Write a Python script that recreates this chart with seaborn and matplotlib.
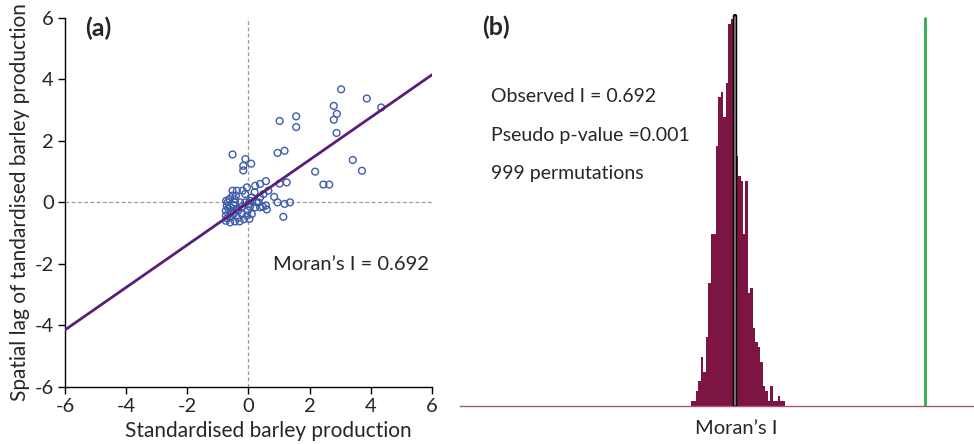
import numpy as np
import pandas as pd
import matplotlib
matplotlib.use("Agg")
import matplotlib.pyplot as plt
import seaborn as sns

sns.set_theme(style="white")
plt.rcParams["font.family"] = ["Lato", "DejaVu Sans"]

# ---- Moran scatterplot data (standardised production vs. its spatial lag) ----
std_production = [
    3.03, 3.87, 4.34, 2.79, 2.89, 2.79, 2.88, 1.02, 1.56, 1.56,
    0.95, 1.18, -0.52, -0.10, -0.17, -0.17, 0.09, 3.41, 3.71, 2.18,
    2.45, 2.64, 1.25, 1.02, 0.57, 0.38, 0.22, -0.05, -0.19, -0.38,
    -0.52, -0.52, -0.41, 0.65, 0.49, 0.84, 0.95, 1.18, 1.36, 1.14,
    0.60, 0.57, 0.38, 0.22, 0.27, 0.05, -0.11, -0.27, -0.44, -0.73,
    -0.71, -0.74, -0.74, -0.74, -0.60, -0.44, -0.29, -0.60, -0.49, -0.33,
    -0.22, -0.05, 0.03, -0.02, 0.11, -0.60, -0.49, -0.38, -0.22, -0.58,
    -0.62, 0.11, -0.11, 0.20, 0.38, 0.05, -0.70, -0.66, -0.55, -0.35,
    -0.15, 0.00, 0.47, 0.33, -0.68, -0.45,
]
spatial_lag = [
    3.68, 3.38, 3.09, 3.14, 2.88, 2.69, 2.26, 2.65, 2.80, 2.45,
    1.61, 1.68, 1.56, 1.41, 1.19, 1.04, 1.26, 1.38, 1.03, 1.00,
    0.58, 0.58, 0.65, 0.61, 0.69, 0.60, 0.54, 0.49, 0.38, 0.38,
    0.38, 0.22, 0.22, 0.38, 0.27, 0.18, 0.00, -0.05, 0.00, -0.47,
    -0.23, -0.10, -0.16, -0.16, 0.00, 0.05, 0.00, 0.00, 0.00, 0.05,
    -0.11, -0.27, -0.43, -0.60, -0.65, -0.62, -0.62, -0.49, -0.38, -0.27,
    -0.38, -0.43, -0.54, -0.27, -0.38, -0.16, -0.08, -0.22, -0.14, -0.33,
    0.11, 0.16, 0.27, 0.33, 0.16, -0.14, -0.52, -0.20, -0.30, -0.50,
    -0.55, -0.05, -0.14, 0.00, 0.00, 0.10,
]
moran_I = 0.692
axis_ticks = [-6, -4, -2, 0, 2, 4, 6]

# ---- permutation reference distribution (999 permutations) ----
perm_counts = [
    1, 1, 3, 5, 10, 7, 14, 25, 35, 35,
    53, 63, 64, 59, 66, 78, 79, 61, 51, 47,
    46, 35, 46, 23, 24, 16, 13, 12, 9, 4,
    3, 1, 4, 1, 1, 2, 1, 1,
]
perm_bin_start = -0.1725
perm_bin_width = 0.00914
expected_I = -0.01
pseudo_p = 0.001
n_perm = 999

fig = plt.figure(figsize=(9.74, 4.44), dpi=100)

# ================= (a) Moran scatterplot =================
ax = fig.add_axes([0.0667, 0.129, 0.3768, 0.8304])
scatter_df = pd.DataFrame({"z": std_production, "lag": spatial_lag})
ax.axvline(0, color="#9a9a9a", lw=0.9, ls=(0, (3, 2)), zorder=1)
ax.axhline(0, color="#9a9a9a", lw=0.9, ls=(0, (3, 2)), zorder=1)
sns.scatterplot(data=scatter_df, x="z", y="lag", ax=ax, marker="o", s=24,
                facecolors="none", edgecolor="#3f5ca8", linewidth=1.0, zorder=3)
line_df = pd.DataFrame({"x": [float(axis_ticks[0]), float(axis_ticks[-1])]})
line_df["y"] = moran_I * line_df["x"]
sns.lineplot(data=line_df, x="x", y="y", ax=ax, color="#5a1e78", lw=2.0, zorder=4)

ax.set_xlim(-6, 6)
ax.set_ylim(-6, 6)
ax.set_xticks(axis_ticks)
ax.set_yticks(axis_ticks)
ax.set_xticklabels([str(t) for t in axis_ticks])
ax.set_yticklabels([str(t) for t in axis_ticks])
ax.tick_params(axis="both", direction="out", length=5, width=1, color="black",
               labelsize=14.5, pad=3, bottom=True, left=True)
for side in ["top", "right"]:
    ax.spines[side].set_visible(False)
for side in ["left", "bottom"]:
    ax.spines[side].set_color("black")
    ax.spines[side].set_linewidth(1.0)
ax.set_xlabel("Standardised barley production", fontsize=15)
ax.xaxis.set_label_coords(0.553, -0.092)
ax.xaxis.label.set_va("top")
ax.set_ylabel("Spatial lag of tandardised barley production", fontsize=15, labelpad=3)
ax.text(0.054, 1.005, "(a)", transform=ax.transAxes, fontsize=18,
        fontweight="bold", va="top", ha="left")
ax.text(0.81, -2.03, f"Moran\u2019s I = {moran_I:.3f}", fontsize=14.5,
        va="center", ha="left")

# ================= (b) permutation histogram =================
bx = fig.add_axes([0.4723, 0.0856, 0.5277, 0.8829])
edges = [perm_bin_start + perm_bin_width * i for i in range(len(perm_counts) + 1)]
perm_df = pd.DataFrame({
    "I": [(edges[i] + edges[i + 1]) / 2 for i in range(len(perm_counts))],
    "count": perm_counts,
})
sns.histplot(data=perm_df, x="I", weights="count", bins=edges, ax=bx,
             color="#7c1541", edgecolor="none", linewidth=0, alpha=1.0,
             antialiased=False)
bx.set_xlim(-1.026, 0.873)
bx.set_ylim(0, 80)
bx.axvline(expected_I, ymin=0, ymax=0.995, color="black", lw=3.2, zorder=5)
bx.axvline(expected_I, ymin=0.002, ymax=0.992, color="#8a8a8a", lw=1.2, zorder=6)
bx.axvline(moran_I, ymin=0, ymax=0.99, color="#2fae4a", lw=2.0, zorder=5)

bx.set_xticks([])
bx.set_yticks([])
bx.set_ylabel("")
for side in ["top", "right", "left"]:
    bx.spines[side].set_visible(False)
bx.spines["bottom"].set_color("#a8567a")
bx.spines["bottom"].set_linewidth(1.0)
bx.set_xlabel("Moran\u2019s I", fontsize=14.5)
bx.xaxis.set_label_coords(0.537, -0.035)
bx.xaxis.label.set_va("top")

bx.text(0.043, 0.995, "(b)", transform=bx.transAxes, fontsize=18,
        fontweight="bold", va="top", ha="left")
stats_lines = [
    f"Observed I = {moran_I:.3f}",
    f"Pseudo p-value ={pseudo_p:.3f}",
    f"{n_perm} permutations",
]
for i, line in enumerate(stats_lines):
    bx.text(0.06, 0.79 - i * 0.099, line, transform=bx.transAxes,
            fontsize=14, va="center", ha="left")

fig.savefig("out.png", dpi=100)
